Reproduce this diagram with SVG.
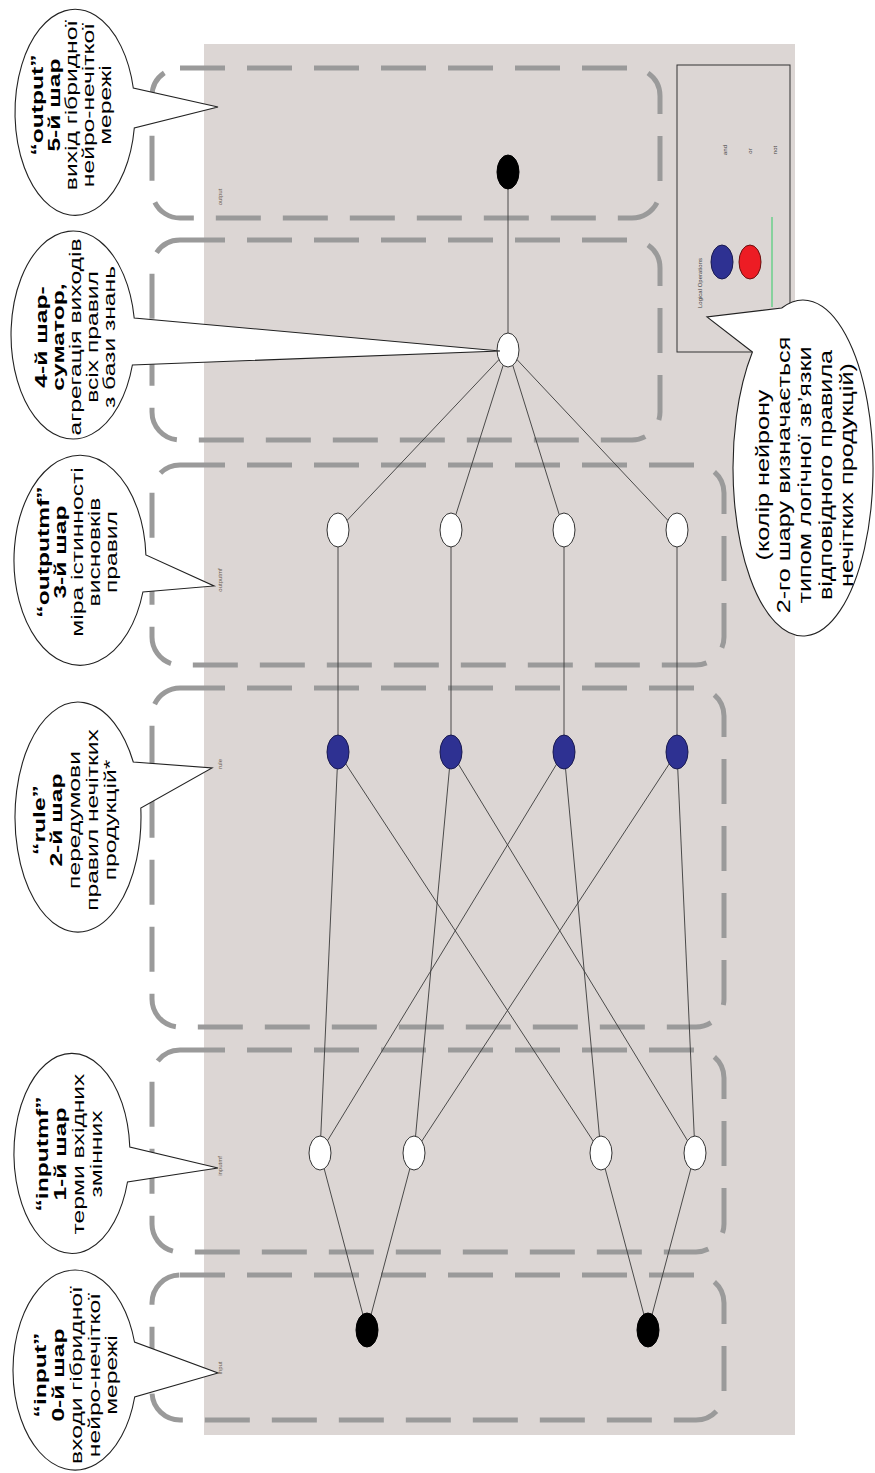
<svg xmlns="http://www.w3.org/2000/svg" width="875" height="1473" viewBox="0 0 875 1473">
<style>
.layer{fill:none;stroke:#9a9a9a;stroke-width:5;stroke-dasharray:45 22}
.edge{stroke:#3a3a3a;stroke-width:0.9;fill:none}
.wn{fill:#ffffff;stroke:#333;stroke-width:1}
.bn{fill:#000000;stroke:#000;stroke-width:1}
.un{fill:#2e3192;stroke:#1a1a50;stroke-width:1}
.bub{fill:#ffffff;stroke:#222;stroke-width:1.1}
.ct{font-family:"Liberation Sans",Arial,sans-serif;font-size:17px;fill:#000;text-anchor:middle}
.cb{font-weight:bold}
.lbl{font-family:"Liberation Sans",Arial,sans-serif;font-size:6px;fill:#6b5a4e;text-anchor:middle}
.lg{font-family:"Liberation Sans",Arial,sans-serif;font-size:6px;fill:#444;text-anchor:middle}
</style>
<rect x="0" y="0" width="875" height="1473" fill="#ffffff"/>
<rect x="204" y="44" width="591" height="1391" fill="#dcd6d4"/>
<g id="layers">
<rect class="layer" x="152" y="68" width="508" height="150" rx="28"/>
<rect class="layer" x="152" y="240" width="508" height="200" rx="28"/>
<rect class="layer" x="152" y="465" width="572" height="200" rx="28"/>
<rect class="layer" x="152" y="688" width="572" height="339" rx="28"/>
<rect class="layer" x="152" y="1050" width="572" height="202" rx="28"/>
<rect class="layer" x="152" y="1275" width="572" height="145" rx="28"/>
</g>
<g id="connectors">
<line class="edge" x1="508" y1="172" x2="508" y2="350"/>
<line class="edge" x1="508" y1="350" x2="338" y2="530"/>
<line class="edge" x1="508" y1="350" x2="451" y2="530"/>
<line class="edge" x1="508" y1="350" x2="564" y2="530"/>
<line class="edge" x1="508" y1="350" x2="677" y2="530"/>
<line class="edge" x1="338" y1="530" x2="338" y2="752"/>
<line class="edge" x1="451" y1="530" x2="451" y2="752"/>
<line class="edge" x1="564" y1="530" x2="564" y2="752"/>
<line class="edge" x1="677" y1="530" x2="677" y2="752"/>
<line class="edge" x1="338" y1="752" x2="320" y2="1153"/>
<line class="edge" x1="338" y1="752" x2="601" y2="1153"/>
<line class="edge" x1="451" y1="752" x2="414" y2="1153"/>
<line class="edge" x1="451" y1="752" x2="695" y2="1153"/>
<line class="edge" x1="564" y1="752" x2="320" y2="1153"/>
<line class="edge" x1="564" y1="752" x2="601" y2="1153"/>
<line class="edge" x1="677" y1="752" x2="414" y2="1153"/>
<line class="edge" x1="677" y1="752" x2="695" y2="1153"/>
<line class="edge" x1="367" y1="1330" x2="320" y2="1153"/>
<line class="edge" x1="367" y1="1330" x2="414" y2="1153"/>
<line class="edge" x1="648" y1="1330" x2="601" y2="1153"/>
<line class="edge" x1="648" y1="1330" x2="695" y2="1153"/>
</g>
<g id="node-output"><ellipse class="bn" cx="508" cy="172" rx="11" ry="17"/></g>
<g id="node-sum"><ellipse class="wn" cx="508" cy="350" rx="11" ry="17"/></g>
<g id="node-omf1"><ellipse class="wn" cx="338" cy="530" rx="11" ry="17"/></g>
<g id="node-omf2"><ellipse class="wn" cx="451" cy="530" rx="11" ry="17"/></g>
<g id="node-omf3"><ellipse class="wn" cx="564" cy="530" rx="11" ry="17"/></g>
<g id="node-omf4"><ellipse class="wn" cx="677" cy="530" rx="11" ry="17"/></g>
<g id="node-rule1"><ellipse class="un" cx="338" cy="752" rx="11" ry="17"/></g>
<g id="node-rule2"><ellipse class="un" cx="451" cy="752" rx="11" ry="17"/></g>
<g id="node-rule3"><ellipse class="un" cx="564" cy="752" rx="11" ry="17"/></g>
<g id="node-rule4"><ellipse class="un" cx="677" cy="752" rx="11" ry="17"/></g>
<g id="node-imf1"><ellipse class="wn" cx="320" cy="1153" rx="11" ry="17"/></g>
<g id="node-imf2"><ellipse class="wn" cx="414" cy="1153" rx="11" ry="17"/></g>
<g id="node-imf3"><ellipse class="wn" cx="601" cy="1153" rx="11" ry="17"/></g>
<g id="node-imf4"><ellipse class="wn" cx="695" cy="1153" rx="11" ry="17"/></g>
<g id="node-in1"><ellipse class="bn" cx="367" cy="1330" rx="11" ry="17"/></g>
<g id="node-in2"><ellipse class="bn" cx="648" cy="1330" rx="11" ry="17"/></g>
<g id="layer-labels">
<text class="lbl" transform="translate(222,197) rotate(-90)">output</text>
<text class="lbl" transform="translate(222,580) rotate(-90)">outputmf</text>
<text class="lbl" transform="translate(222,764) rotate(-90)">rule</text>
<text class="lbl" transform="translate(222,1166) rotate(-90)">inputmf</text>
<text class="lbl" transform="translate(222,1368) rotate(-90)">input</text>
</g>
<g id="legend">
<rect x="677" y="65" width="113" height="287" fill="none" stroke="#333" stroke-width="1"/>
<text class="lg" transform="translate(702,283) rotate(-90)">Logical Operations</text>
<ellipse cx="722" cy="262" rx="11" ry="17" fill="#2e3192" stroke="#1a1a50" stroke-width="1"/>
<ellipse cx="750" cy="262" rx="11" ry="17" fill="#ed1c24" stroke="#6a1010" stroke-width="1"/>
<line x1="772" y1="217" x2="772" y2="307" stroke="#33cc66" stroke-width="1"/>
<text class="lg" transform="translate(727,150) rotate(-90)">and</text>
<text class="lg" transform="translate(752,151) rotate(-90)">or</text>
<text class="lg" transform="translate(777,150) rotate(-90)">not</text>
</g>
<g id="callout-output">
<path class="bub" d="M 133.3 88 A 60 103 0 1 0 134.3 128 L 218 107 Z"/>
<g transform="translate(0,105) rotate(-90) scale(1.45,1)">
<text class="ct cb" x="0" y="43">“output”</text>
<text class="ct cb" x="0" y="60">5-й шар</text>
<text class="ct" x="0" y="77">вихід гібридної</text>
<text class="ct" x="0" y="94">нейро-нечіткої</text>
<text class="ct" x="0" y="111">мережі</text>
</g>
</g>
<g id="callout-sum">
<path class="bub" d="M 134.2 318 A 62 104 0 1 0 132.4 365 L 500 351 Z"/>
<g transform="translate(0,337) rotate(-90) scale(1.45,1)">
<text class="ct cb" x="0" y="47">4-й шар-</text>
<text class="ct cb" x="0" y="64">суматор,</text>
<text class="ct" x="0" y="81">агрегація виходів</text>
<text class="ct" x="0" y="98">всіх правил</text>
<text class="ct" x="0" y="115">з бази знань</text>
</g>
</g>
<g id="callout-outputmf">
<path class="bub" d="M 145.9 555 A 66 105 0 1 0 142.9 592 L 214 586 Z"/>
<g transform="translate(0,552) rotate(-90) scale(1.45,1)">
<text class="ct cb" x="0" y="49">“outputmf”</text>
<text class="ct cb" x="0" y="66">3-й шар</text>
<text class="ct" x="0" y="83">міра істинності</text>
<text class="ct" x="0" y="100">висновків</text>
<text class="ct" x="0" y="117">правил</text>
</g>
</g>
<g id="callout-rule">
<path class="bub" d="M 133.3 762 A 63 115 0 1 0 140.8 808 L 212 768 Z"/>
<g transform="translate(0,820) rotate(-90) scale(1.45,1)">
<text class="ct cb" x="0" y="45">“rule”</text>
<text class="ct cb" x="0" y="62">2-й шар</text>
<text class="ct" x="0" y="80">передумови</text>
<text class="ct" x="0" y="98">правил нечітких</text>
<text class="ct" x="0" y="116">продукцій*</text>
</g>
</g>
<g id="callout-inputmf">
<path class="bub" d="M 129.8 1147 A 58 100 0 1 0 127.5 1182 L 218 1168 Z"/>
<g transform="translate(0,1154) rotate(-90) scale(1.45,1)">
<text class="ct cb" x="0" y="48">“inputmf”</text>
<text class="ct cb" x="0" y="66">1-й шар</text>
<text class="ct" x="0" y="84">терми вхідних</text>
<text class="ct" x="0" y="102">змінних</text>
</g>
</g>
<g id="callout-input">
<path class="bub" d="M 134.5 1342 A 62 100 0 1 0 134.7 1397 L 218 1373 Z"/>
<g transform="translate(0,1375) rotate(-90) scale(1.45,1)">
<text class="ct cb" x="0" y="46">“input”</text>
<text class="ct cb" x="0" y="64">0-й шар</text>
<text class="ct" x="0" y="82">входи гібридної</text>
<text class="ct" x="0" y="100">нейро-нечіткої</text>
<text class="ct" x="0" y="117">мережі</text>
</g>
</g>
<g id="callout-note">
<path class="bub" d="M 781.7 308 A 70 168 0 1 1 752.4 352 L 707 317 Z"/>
<g transform="translate(0,475) rotate(-90) scale(1.4,1)">
<text class="ct" x="0" y="769" style="font-size:18px">(колір нейрону</text>
<text class="ct" x="0" y="790" style="font-size:18px">2-го шару  визначається</text>
<text class="ct" x="0" y="811" style="font-size:18px">типом логічної зв’язки</text>
<text class="ct" x="0" y="832" style="font-size:18px">відповідного правила</text>
<text class="ct" x="0" y="853" style="font-size:18px">нечітких продукцій)</text>
</g>
</g>
</svg>
